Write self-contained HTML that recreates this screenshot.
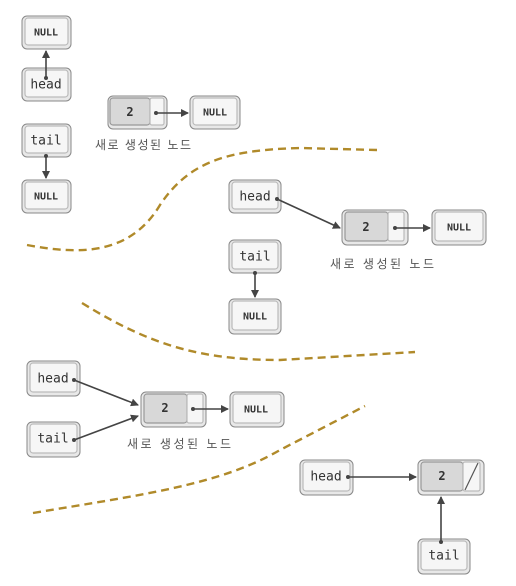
<!DOCTYPE html>
<html><head><meta charset="utf-8"><style>body{margin:0;background:#fff}svg{display:block}
text{font-family:"DejaVu Sans Mono","Liberation Mono",monospace;fill:#333;text-anchor:middle;dominant-baseline:central}
.k{font-family:"Liberation Sans","Noto Sans CJK KR",sans-serif;font-size:12px;fill:#555;text-anchor:start}
.o{fill:#e8e8e8;stroke:#888;stroke-width:1}
.i{fill:#f6f6f6;stroke:#bbb;stroke-width:1.2}
.g{fill:#d8d8d8;stroke:#999;stroke-width:1.2}
.l{stroke:#444;stroke-width:1.6;fill:none}
.d{stroke:#b08a2a;stroke-width:2.4;fill:none;stroke-dasharray:8 5}
</style></head><body>
<svg width="516" height="586" viewBox="0 0 516 586">
<defs><marker id="a" markerWidth="8" markerHeight="8" refX="7" refY="4" orient="auto" markerUnits="userSpaceOnUse"><path d="M0,0 L8,4 L0,8z" fill="#444"/></marker></defs>
<path class="d" d="M27,245 C80,255 130,255 160,205 C190,160 230,150 300,148 L377,150"/>
<path class="d" d="M82,303 C150,345 200,360 280,360 L415,352"/>
<path class="d" d="M33,513 C140,495 220,485 280,450 L365,406"/>

<g id="p1">
<rect class="o" x="22" y="16" width="49" height="33" rx="5"/><rect class="i" x="25" y="18" width="43" height="27" rx="3"/><text x="46" y="33" font-size="10" font-weight="bold">NULL</text>
<rect class="o" x="22" y="68" width="49" height="33" rx="5"/><rect class="i" x="25" y="70" width="43" height="27" rx="3"/><text x="46" y="85" font-size="13">head</text>
<rect class="o" x="22" y="124" width="49" height="33" rx="5"/><rect class="i" x="25" y="126" width="43" height="27" rx="3"/><text x="46" y="141" font-size="13">tail</text>
<rect class="o" x="22" y="180" width="49" height="33" rx="5"/><rect class="i" x="25" y="182" width="43" height="27" rx="3"/><text x="46" y="197" font-size="10" font-weight="bold">NULL</text>
<line class="l" x1="46" y1="78" x2="46" y2="51" marker-end="url(#a)"/><circle cx="46" cy="78" r="2" fill="#444"/>
<line class="l" x1="46" y1="156" x2="46" y2="178" marker-end="url(#a)"/><circle cx="46" cy="156" r="2" fill="#444"/>
<rect class="o" x="108" y="96" width="59" height="33" rx="5"/><rect class="g" x="110" y="98" width="40" height="27" rx="3"/><rect class="i" x="150" y="98" width="14" height="27" rx="2"/><text x="130" y="112" font-size="12" font-weight="bold">2</text>
<rect class="o" x="190" y="96" width="50" height="33" rx="5"/><rect class="i" x="193" y="98" width="44" height="27" rx="3"/><text x="215" y="113" font-size="10" font-weight="bold">NULL</text>
<line class="l" x1="156" y1="113" x2="188" y2="113" marker-end="url(#a)"/><circle cx="156" cy="113" r="2" fill="#444"/>
<text class="k" x="95" y="145" textLength="96" lengthAdjust="spacing">새로 생성된 노드</text>
</g>

<g id="p2">
<rect class="o" x="229" y="180" width="52" height="33" rx="5"/><rect class="i" x="232" y="182" width="46" height="27" rx="3"/><text x="255" y="197" font-size="13">head</text>
<rect class="o" x="342" y="210" width="66" height="35" rx="5"/><rect class="g" x="345" y="212" width="43" height="29" rx="3"/><rect class="i" x="388" y="212" width="16" height="29" rx="2"/><text x="366" y="227" font-size="12" font-weight="bold">2</text>
<rect class="o" x="432" y="210" width="54" height="35" rx="5"/><rect class="i" x="435" y="212" width="48" height="29" rx="3"/><text x="459" y="228" font-size="10" font-weight="bold">NULL</text>
<line class="l" x1="277" y1="199" x2="340" y2="228" marker-end="url(#a)"/><circle cx="277" cy="199" r="2" fill="#444"/>
<line class="l" x1="395" y1="228" x2="430" y2="228" marker-end="url(#a)"/><circle cx="395" cy="228" r="2" fill="#444"/>
<text class="k" x="330" y="264" textLength="104" lengthAdjust="spacing">새로 생성된 노드</text>
<rect class="o" x="229" y="240" width="52" height="33" rx="5"/><rect class="i" x="232" y="242" width="46" height="27" rx="3"/><text x="255" y="257" font-size="13">tail</text>
<rect class="o" x="229" y="299" width="52" height="35" rx="5"/><rect class="i" x="232" y="301" width="46" height="29" rx="3"/><text x="255" y="317" font-size="10" font-weight="bold">NULL</text>
<line class="l" x1="255" y1="273" x2="255" y2="297" marker-end="url(#a)"/><circle cx="255" cy="273" r="2" fill="#444"/>
</g>

<g id="p3">
<rect class="o" x="27" y="361" width="53" height="35" rx="5"/><rect class="i" x="30" y="363" width="47" height="29" rx="3"/><text x="53" y="379" font-size="13">head</text>
<rect class="o" x="27" y="422" width="53" height="35" rx="5"/><rect class="i" x="30" y="424" width="47" height="29" rx="3"/><text x="53" y="439" font-size="13">tail</text>
<rect class="o" x="141" y="392" width="65" height="35" rx="5"/><rect class="g" x="144" y="394" width="43" height="29" rx="3"/><rect class="i" x="187" y="394" width="16" height="29" rx="2"/><text x="165" y="408" font-size="12" font-weight="bold">2</text>
<rect class="o" x="230" y="392" width="54" height="35" rx="5"/><rect class="i" x="233" y="394" width="48" height="29" rx="3"/><text x="256" y="410" font-size="10" font-weight="bold">NULL</text>
<line class="l" x1="74" y1="380" x2="138" y2="405" marker-end="url(#a)"/><circle cx="74" cy="380" r="2" fill="#444"/>
<line class="l" x1="74" y1="440" x2="138" y2="416" marker-end="url(#a)"/><circle cx="74" cy="440" r="2" fill="#444"/>
<line class="l" x1="193" y1="409" x2="228" y2="409" marker-end="url(#a)"/><circle cx="193" cy="409" r="2" fill="#444"/>
<text class="k" x="127" y="444" textLength="104" lengthAdjust="spacing">새로 생성된 노드</text>
</g>

<g id="p4">
<rect class="o" x="300" y="460" width="53" height="35" rx="5"/><rect class="i" x="303" y="462" width="47" height="29" rx="3"/><text x="326" y="477" font-size="13">head</text>
<rect class="o" x="418" y="460" width="66" height="35" rx="5"/><rect class="g" x="421" y="462" width="42" height="29" rx="3"/><rect class="i" x="463" y="462" width="17" height="29" rx="2"/><line x1="465" y1="490" x2="478" y2="463" stroke="#555" stroke-width="1.2"/><text x="442" y="476" font-size="12" font-weight="bold">2</text>
<rect class="o" x="418" y="539" width="52" height="35" rx="5"/><rect class="i" x="421" y="541" width="46" height="29" rx="3"/><text x="444" y="556" font-size="13">tail</text>
<line class="l" x1="348" y1="477" x2="416" y2="477" marker-end="url(#a)"/><circle cx="348" cy="477" r="2" fill="#444"/>
<line class="l" x1="441" y1="542" x2="441" y2="497" marker-end="url(#a)"/><circle cx="441" cy="542" r="2" fill="#444"/>
</g>
</svg>
</body></html>
